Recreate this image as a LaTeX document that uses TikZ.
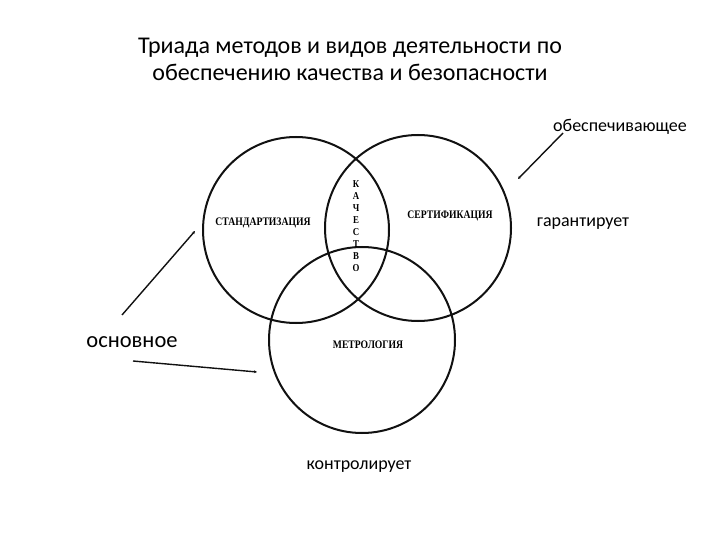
\documentclass[tikz,border=0pt]{standalone}
\usepackage{fontspec}
\setmainfont{Carlito}
\newfontfamily\circfont[FakeStretch=0.84]{Liberation Serif}
\usetikzlibrary{positioning,arrows.meta}
\definecolor{ink}{HTML}{111111}

\begin{document}
\begin{tikzpicture}[x=1pt,y=-1pt,font=\fontsize{18}{21}\selectfont]
  \useasboundingbox (0,0) rectangle (720,540);
  \node[align=center,font=\fontsize{24}{27}\selectfont] (title) at (350,59) {Триада методов и видов деятельности по\\обеспечению качества и безопасности};
  \node[circle,draw=ink,line width=2pt,minimum size=186pt,inner sep=0pt] (stand) at (296,230) {};
  \node[circle,draw=ink,line width=2pt,minimum size=186pt,inner sep=0pt] (sert) at (418,228) {};
  \node[circle,draw=ink,line width=2pt,minimum size=186pt,inner sep=0pt] (metr) at (362,340) {};
  \node[font=\circfont\bfseries\fontsize{11.5}{13}\selectfont] (standlbl) at (263,223) {СТАНДАРТИЗАЦИЯ};
  \node[font=\circfont\bfseries\fontsize{11.5}{13}\selectfont] (sertlbl) at (450,216) {СЕРТИФИКАЦИЯ};
  \node[font=\circfont\bfseries\fontsize{11.5}{13}\selectfont] (metrlbl) at (368,345) {МЕТРОЛОГИЯ};
  \node[align=center,font=\circfont\bfseries\fontsize{10.5}{12}\selectfont] (kach) at (356,226) {К\\А\\Ч\\Е\\С\\Т\\В\\О};
  \node (obesp) at (620,127) {обеспечивающее};
  \node (garant) at (583,224) {гарантирует};
  \node[font=\fontsize{22.5}{26}\selectfont] (osnov) at (132,342) {основное};
  \node (kontr) at (359,467) {контролирует};
  \coordinate (obespend) at (518,179);
  \coordinate (osnovup) at (195,231);
  \coordinate (osnovdown) at (257,372);
  \draw[ink,line width=1.4pt,-{Stealth[length=3pt,width=3pt]}] (563,133) -- (obespend);
  \draw[ink,line width=1.4pt,-{Stealth[length=3pt,width=3pt]}] (122,315) -- (osnovup);
  \draw[ink,line width=1.4pt,-{Stealth[length=3pt,width=3pt]}] (133,361) -- (osnovdown);
\end{tikzpicture}
\end{document}
